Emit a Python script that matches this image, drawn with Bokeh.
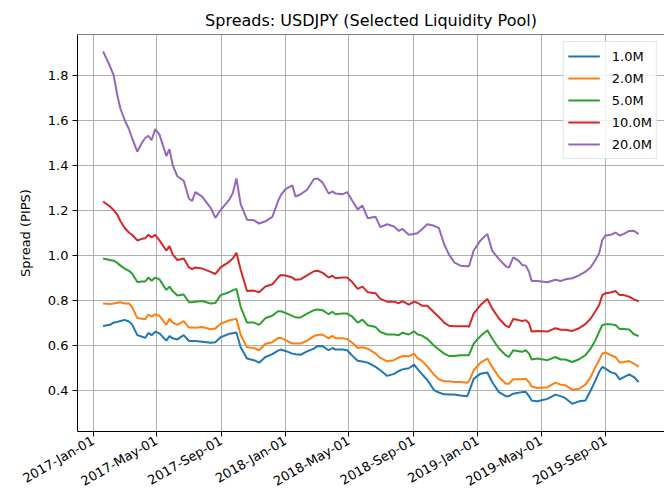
import math
import pandas as pd
from bokeh.plotting import figure
from bokeh.models import (Range1d, FixedTicker, DatetimeTickFormatter, PrintfTickFormatter,
                          Legend, LegendItem, Span)
from bokeh.embed import file_html
from bokeh.resources import INLINE

TITLE = "Spreads: USDJPY (Selected Liquidity Pool)"
Y_LABEL = "Spread (PIPS)"
SERIES_NAMES = ["1.0M", "2.0M", "5.0M", "10.0M", "20.0M"]
COLORS = ["#1f77b4", "#ff7f0e", "#2ca02c", "#d62728", "#9467bd"]

X_TICKS = ["2017-01-01", "2017-05-01", "2017-09-01", "2018-01-01", "2018-05-01",
           "2018-09-01", "2019-01-01", "2019-05-01", "2019-09-01"]
Y_TICKS = [0.4, 0.6, 0.8, 1.0, 1.2, 1.4, 1.6, 1.8]

dates = [
    "2017-01-20", "2017-02-02", "2017-02-09", "2017-02-16", "2017-02-22", "2017-03-02",
    "2017-03-10", "2017-03-16", "2017-03-26", "2017-04-04", "2017-04-10", "2017-04-16",
    "2017-04-22", "2017-04-29", "2017-05-07", "2017-05-20", "2017-05-26", "2017-06-01",
    "2017-06-10", "2017-06-22", "2017-07-02", "2017-07-08", "2017-07-14", "2017-07-27",
    "2017-08-12", "2017-08-21", "2017-08-31", "2017-09-16", "2017-09-23", "2017-09-30",
    "2017-10-08", "2017-10-20", "2017-11-02", "2017-11-12", "2017-11-24", "2017-12-07",
    "2017-12-18",
    "2017-12-23", "2018-01-01", "2018-01-14", "2018-01-20", "2018-01-30", "2018-02-11",
    "2018-02-24", "2018-03-03", "2018-03-12", "2018-03-24", "2018-03-31", "2018-04-06",
    "2018-04-19", "2018-04-28", "2018-05-08", "2018-05-18", "2018-05-27", "2018-06-06",
    "2018-06-21", "2018-06-30", "2018-07-13", "2018-07-26", "2018-08-04", "2018-08-11",
    "2018-08-23", "2018-09-02", "2018-09-08", "2018-09-17", "2018-09-27", "2018-10-10",
    "2018-10-19", "2018-10-29", "2018-11-07", "2018-11-17", "2018-11-29", "2018-12-12",
    "2018-12-15", "2018-12-24", "2019-01-06", "2019-01-19", "2019-01-28", "2019-02-10",
    "2019-02-23", "2019-03-01", "2019-03-09", "2019-03-19", "2019-03-26", "2019-04-02",
    "2019-04-08", "2019-04-13", "2019-04-24", "2019-05-13", "2019-05-28", "2019-06-07",
    "2019-06-16", "2019-06-29", "2019-07-12", "2019-07-24", "2019-08-03", "2019-08-12",
    "2019-08-19", "2019-08-25", "2019-08-31", "2019-09-10", "2019-09-19", "2019-09-27",
    "2019-10-05", "2019-10-15", "2019-10-24", "2019-11-02",
]

s_1m = [
    0.685, 0.69, 0.70, 0.703, 0.707, 0.712, 0.705, 0.692, 0.644, 0.637, 0.632, 0.654,
    0.644, 0.659, 0.652, 0.62, 0.64, 0.63, 0.625, 0.644, 0.618, 0.618, 0.618, 0.615,
    0.61, 0.613, 0.635, 0.65, 0.653, 0.656, 0.59, 0.54, 0.533, 0.522, 0.547, 0.56, 0.575,
    0.58, 0.574, 0.562, 0.559, 0.557, 0.572, 0.584, 0.596, 0.595, 0.577, 0.587, 0.58,
    0.58, 0.577, 0.552, 0.53, 0.527, 0.522, 0.503, 0.488, 0.463, 0.472, 0.485, 0.492,
    0.497, 0.513, 0.495, 0.471, 0.445, 0.40, 0.389, 0.381, 0.38, 0.38, 0.376, 0.373,
    0.391, 0.45, 0.473, 0.478, 0.436, 0.391, 0.373, 0.373, 0.384, 0.388, 0.391, 0.391,
    0.373, 0.354, 0.35, 0.361, 0.38, 0.373, 0.364, 0.339, 0.35, 0.354, 0.398, 0.443,
    0.48, 0.503, 0.495, 0.48, 0.473, 0.448, 0.458, 0.47, 0.458, 0.436,
]
s_2m = [
    0.785, 0.782, 0.785, 0.788, 0.79, 0.785, 0.785, 0.77, 0.72, 0.717, 0.715, 0.736,
    0.726, 0.736, 0.73, 0.69, 0.717, 0.70, 0.69, 0.706, 0.678, 0.678, 0.677, 0.68,
    0.67, 0.674, 0.695, 0.71, 0.713, 0.717, 0.646, 0.59, 0.587, 0.577, 0.606, 0.613, 0.631,
    0.632, 0.622, 0.607, 0.607, 0.607, 0.62, 0.64, 0.645, 0.647, 0.63, 0.641, 0.63,
    0.63, 0.627, 0.61, 0.587, 0.59, 0.584, 0.562, 0.543, 0.528, 0.533, 0.545, 0.551,
    0.55, 0.562, 0.543, 0.53, 0.505, 0.468, 0.448, 0.439, 0.439, 0.436, 0.436, 0.433,
    0.439, 0.488, 0.522, 0.54, 0.503, 0.458, 0.428, 0.428, 0.448, 0.448, 0.448, 0.45,
    0.436, 0.416, 0.409, 0.413, 0.433, 0.424, 0.421, 0.402, 0.406, 0.424, 0.458, 0.503,
    0.533, 0.562, 0.567, 0.555, 0.547, 0.522, 0.525, 0.529, 0.518, 0.503,
]
s_5m = [
    0.985, 0.978, 0.975, 0.965, 0.953, 0.94, 0.93, 0.918, 0.88, 0.882, 0.883, 0.90,
    0.886, 0.90, 0.892, 0.845, 0.86, 0.84, 0.82, 0.825, 0.79, 0.79, 0.793, 0.796,
    0.785, 0.787, 0.822, 0.835, 0.843, 0.85, 0.77, 0.70, 0.70, 0.69, 0.72, 0.73, 0.75,
    0.75, 0.743, 0.73, 0.723, 0.723, 0.74, 0.755, 0.758, 0.755, 0.737, 0.748, 0.737,
    0.74, 0.74, 0.726, 0.70, 0.713, 0.688, 0.68, 0.658, 0.647, 0.647, 0.644, 0.655,
    0.647, 0.661, 0.648, 0.642, 0.628, 0.597, 0.58, 0.562, 0.552, 0.552, 0.555, 0.555,
    0.555, 0.607, 0.64, 0.666, 0.629, 0.585, 0.555, 0.547, 0.577, 0.573, 0.57, 0.577,
    0.562, 0.536, 0.54, 0.533, 0.547, 0.536, 0.536, 0.525, 0.537, 0.555, 0.585, 0.622,
    0.659, 0.689, 0.692, 0.692, 0.689, 0.671, 0.671, 0.669, 0.648, 0.64,
]
s_10m = [
    1.238, 1.216, 1.20, 1.18, 1.15, 1.12, 1.10, 1.09, 1.065, 1.072, 1.075, 1.09,
    1.078, 1.09, 1.065, 1.02, 1.04, 1.003, 0.978, 0.985, 0.945, 0.937, 0.945, 0.94,
    0.925, 0.916, 0.945, 0.97, 0.985, 1.01, 0.935, 0.84, 0.842, 0.835, 0.86, 0.87, 0.90,
    0.911, 0.909, 0.90, 0.89, 0.893, 0.91, 0.928, 0.93, 0.922, 0.90, 0.908, 0.897,
    0.90, 0.90, 0.879, 0.85, 0.86, 0.835, 0.83, 0.805, 0.793, 0.793, 0.786, 0.795,
    0.78, 0.793, 0.788, 0.775, 0.775, 0.745, 0.725, 0.70, 0.686, 0.684, 0.684, 0.684,
    0.681, 0.74, 0.778, 0.805, 0.763, 0.718, 0.686, 0.679, 0.716, 0.711, 0.707, 0.711,
    0.697, 0.66, 0.663, 0.66, 0.675, 0.668, 0.668, 0.663, 0.675, 0.693, 0.718, 0.75,
    0.778, 0.822, 0.83, 0.834, 0.84, 0.822, 0.822, 0.815, 0.803, 0.795,
]
s_20m = [
    1.905, 1.84, 1.80, 1.71, 1.65, 1.60, 1.56, 1.52, 1.46, 1.50, 1.52, 1.53,
    1.51, 1.56, 1.535, 1.44, 1.47, 1.40, 1.35, 1.33, 1.25, 1.24, 1.28, 1.26,
    1.21, 1.165, 1.20, 1.245, 1.275, 1.34, 1.226, 1.157, 1.155, 1.14, 1.15, 1.17, 1.24,
    1.265, 1.293, 1.31, 1.26, 1.27, 1.29, 1.338, 1.34, 1.323, 1.273, 1.283, 1.273,
    1.27, 1.28, 1.24, 1.203, 1.22, 1.164, 1.17, 1.124, 1.137, 1.127, 1.107, 1.116,
    1.09, 1.094, 1.097, 1.115, 1.137, 1.13, 1.12, 1.048, 1.003, 0.968, 0.953, 0.95,
    0.95, 1.02, 1.065, 1.094, 1.02, 0.982, 0.95, 0.944, 0.99, 0.975, 0.956, 0.953,
    0.926, 0.885, 0.885, 0.879, 0.89, 0.885, 0.892, 0.897, 0.91, 0.926, 0.946, 0.978,
    1.008, 1.067, 1.087, 1.09, 1.10, 1.087, 1.094, 1.107, 1.108, 1.093,
]

SERIES = [s_1m, s_2m, s_5m, s_10m, s_20m]

FONT = "DejaVu Sans"
x_dates = pd.to_datetime(dates)
Y_START, Y_END = 0.216, 1.98

p = figure(width=664, height=498, output_backend="svg", toolbar_location=None,
           x_axis_type="datetime",
           x_range=Range1d(pd.Timestamp("2016-12-02 12:00"), pd.Timestamp("2019-12-21")),
           y_range=Range1d(Y_START, Y_END),
           min_border_left=77, min_border_right=0, min_border_top=34, min_border_bottom=0)

p.title.text = TITLE
p.title.text_font = FONT
p.title.text_font_size = "16px"
p.title.text_font_style = "normal"
p.title.align = "center"
p.title.text_color = "black"

p.outline_line_color = None
p.add_layout(Span(location=Y_END, dimension="width", line_color="black", line_width=1))

items = []
for name, col, vals in zip(SERIES_NAMES, COLORS, SERIES):
    r = p.line(x_dates, vals, line_color=col, line_width=2)
    items.append(LegendItem(label=name, renderers=[r]))

tick_ms = [pd.Timestamp(t).value / 1e6 for t in X_TICKS]
p.xaxis.ticker = FixedTicker(ticks=tick_ms)
fmt = "%Y-%b-%d"
p.xaxis.formatter = DatetimeTickFormatter(milliseconds=fmt, seconds=fmt, minsec=fmt, minutes=fmt,
                                          hourmin=fmt, hours=fmt, days=fmt, months=fmt, years=fmt)
p.xaxis.major_label_orientation = math.pi / 6
p.yaxis.ticker = FixedTicker(ticks=Y_TICKS)
p.yaxis.formatter = PrintfTickFormatter(format="%.1f")
p.yaxis.axis_label = Y_LABEL
p.yaxis.axis_label_text_font = FONT
p.yaxis.axis_label_text_font_size = "13px"
p.yaxis.axis_label_text_font_style = "normal"
p.yaxis.axis_label_text_color = "black"
p.yaxis.axis_label_standoff = 12

for ax in (p.xaxis, p.yaxis):
    ax.major_label_text_font = FONT
    ax.major_label_text_font_size = "13px"
    ax.major_label_text_color = "black"
    ax.axis_line_color = "black"
    ax.axis_line_width = 1
    ax.major_tick_line_color = "black"
    ax.major_tick_out = 5
    ax.major_tick_in = 0
    ax.minor_tick_line_color = None
    ax.major_label_standoff = 4
p.xaxis.major_label_standoff = 3

p.grid.grid_line_color = "#b0b0b0"
p.grid.grid_line_width = 1

legend = Legend(items=items, location="top_right")
legend.margin = 7
legend.padding = 4
legend.spacing = 2
legend.glyph_width = 32
legend.glyph_height = 20
legend.label_height = 20
legend.label_standoff = 12
legend.label_text_font = FONT
legend.label_text_font_size = "13px"
legend.label_text_color = "black"
legend.border_line_color = "#cccccc"
legend.border_line_width = 1
legend.background_fill_alpha = 0.8
p.add_layout(legend, "center")

open("out.html", "w").write(file_html(p, INLINE))
